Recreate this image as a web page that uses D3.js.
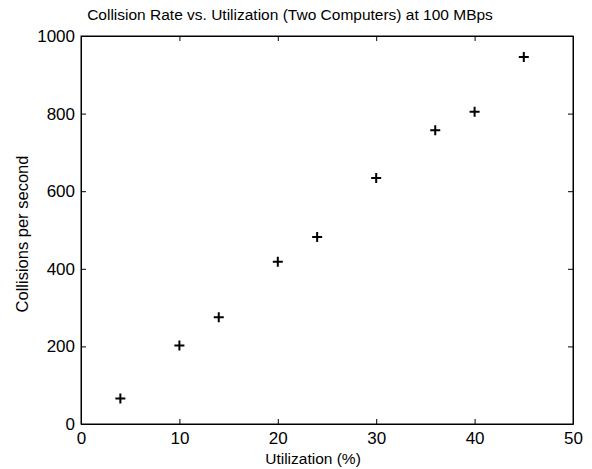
<!DOCTYPE html>
<html>
<head>
<meta charset="UTF-8">
<script src="https://d3js.org/d3.v7.min.js"></script>
<style>
  body { margin: 0; background: #fff; }
  svg { display: block; font-family: "Liberation Sans", Arial, sans-serif; }
</style>
</head>
<body>
<svg width="592" height="469"></svg>
<script>
// utilization (%) and collisions per second
const utilization = [4, 10, 14, 20, 24, 30, 36, 40, 45];
const collisions  = [66, 202, 275, 418, 482, 634, 757, 805, 946];
const xTicks = [0, 10, 20, 30, 40, 50];
const yTicks = [0, 200, 400, 600, 800, 1000];

const margin = { top: 36, right: 19, bottom: 45, left: 81 };
const width = 592 - margin.left - margin.right;
const height = 469 - margin.top - margin.bottom;
const font = "'Liberation Sans', Arial, sans-serif";

const svg = d3.select("svg");
const g = svg.append("g").attr("transform", `translate(${margin.left},${margin.top})`);

const x = d3.scaleLinear().domain([0, 50]).range([0, width]);
const y = d3.scaleLinear().domain([0, 1000]).range([height, 0]);

// box
g.append("rect")
  .attr("width", width).attr("height", height)
  .attr("fill", "none").attr("stroke", "#000").attr("stroke-width", 1);

// bottom axis, ticks inward
g.append("g")
  .attr("transform", `translate(0,${height})`)
  .call(d3.axisBottom(x).tickValues(xTicks).tickFormat(d3.format("d"))
    .tickSizeInner(-5).tickSizeOuter(0).tickPadding(8));
// left axis
g.append("g")
  .call(d3.axisLeft(y).tickValues(yTicks).tickFormat(d3.format("d"))
    .tickSizeInner(-5).tickSizeOuter(0).tickPadding(6));
// top and right mirrored ticks
g.append("g")
  .call(d3.axisTop(x).tickValues(xTicks).tickSizeInner(-5).tickSizeOuter(0).tickFormat(""));
g.append("g")
  .attr("transform", `translate(${width},0)`)
  .call(d3.axisRight(y).tickValues(yTicks).tickSizeInner(-5).tickSizeOuter(0).tickFormat(""));

g.selectAll("g").attr("font-family", font);
g.selectAll(".domain").attr("stroke", "#000");
g.selectAll(".tick line").attr("stroke", "#000");
g.selectAll(".tick text").attr("fill", "#000").style("font-size", "17px");

// plus markers
g.selectAll(".pt")
  .data(utilization.map((u, i) => ({ u, c: collisions[i] })))
  .enter().append("path")
  .attr("class", "pt")
  .attr("transform", d => `translate(${x(d.u)},${y(d.c)})`)
  .attr("d", "M-5,0H5M0,-5V5")
  .attr("stroke", "#000")
  .attr("stroke-width", 2)
  .attr("fill", "none");

// title and labels
svg.append("text")
  .attr("x", 290).attr("y", 20)
  .attr("text-anchor", "middle").style("font-size", "15.5px")
  .text("Collision Rate vs. Utilization (Two Computers) at 100 MBps");

svg.append("text")
  .attr("x", 313).attr("y", 464)
  .attr("text-anchor", "middle").style("font-size", "15.5px")
  .text("Utilization (%)");

svg.append("text")
  .attr("transform", `translate(28,234) rotate(-90)`)
  .attr("text-anchor", "middle").style("font-size", "16.5px")
  .text("Collisions per second");
</script>
</body>
</html>
